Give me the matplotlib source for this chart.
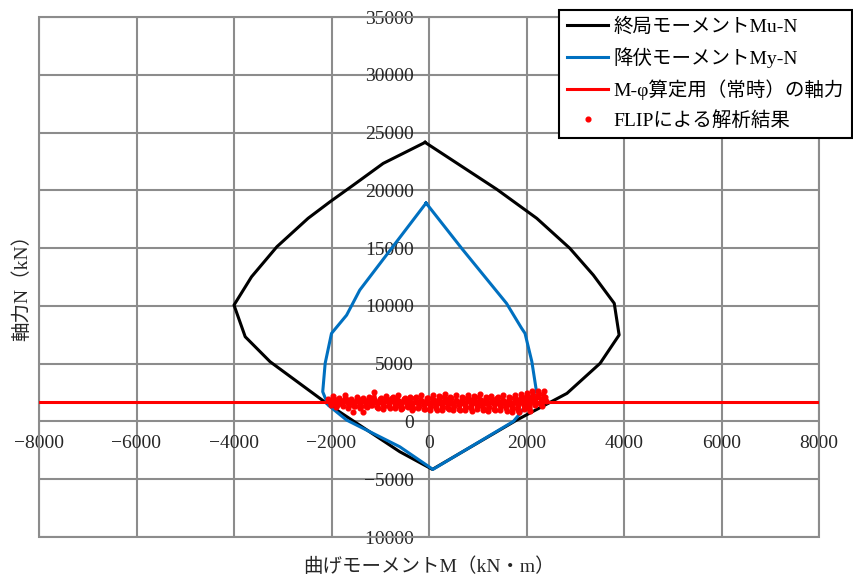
import matplotlib.pyplot as plt
from matplotlib.patches import Rectangle

plt.rcParams['font.family'] = ['Liberation Serif', 'Noto Sans CJK JP']
plt.rcParams['axes.unicode_minus'] = True

# 終局モーメント Mu-N
mu_m = [-80, -940, -1550, -2030, -2480, -3120, -3640, -4000, -3770, -3260,
        -2100, -600, 70, 1800, 2380, 2830, 3510, 3900, 3800, 3370, 2890,
        2210, 1390, -80]
mu_n = [24150, 22330, 20460, 19010, 17580, 15120, 12520, 10070, 7330, 5170,
        1570, -2620, -4150, 120, 1420, 2430, 5030, 7480, 10220, 12670, 14980,
        17580, 20090, 24150]

# 降伏モーメント My-N
my_m = [-60, -1420, -1690, -2000, -2130, -2180, -2070, -1690, -600, 80,
        1730, 1870, 2100, 2200, 2110, 1970, 1900, 1590, 670, -60]
my_n = [18900, 11370, 9200, 7620, 5030, 2570, 1420, 120, -2190, -4150,
        0, 700, 2150, 2720, 5170, 7620, 8060, 10220, 14980, 18900]

# M-φ算定用（常時）の軸力
axial_n = 1650

# FLIPによる解析結果 (M, N)
flip_m = [-2080, -2020, -1960, -1900, -1840, -1780, -1720, -1660, -1600, -1540,
          -1480, -1420, -1360, -1300, -1240, -1180, -1120, -1060, -1000, -940,
          -880, -820, -760, -700, -640, -580, -520, -460, -400, -340,
          -280, -220, -160, -100, -40, 20, 80, 140, 200, 260,
          320, 380, 440, 500, 560, 620, 680, 740, 800, 860,
          920, 980, 1040, 1100, 1160, 1220, 1280, 1340, 1400, 1460,
          1520, 1580, 1640, 1700, 1760, 1820, 1880, 1940, 2000, 2060,
          2120, 2180, 2240, 2300, 2360, 2400,
          2380, 2320, 2260, 2200, 2140, 2080, 2020, 1960, 1900, 1840,
          1780, 1720, 1660, 1600, 1540, 1480, 1420, 1360, 1300, 1240,
          1180, 1120, 1060, 1000, 940, 880, 820, 760, 700, 640,
          580, 520, 460, 400, 340, 280, 220, 160, 100, 40,
          -20, -80, -140, -200, -260, -320, -380, -440, -500, -560,
          -620, -680, -740, -800, -860, -920, -980, -1040, -1100, -1160,
          -1220, -1280, -1340, -1400, -1460, -1520, -1580, -1640, -1700, -1760,
          -1820, -1880, -1940, -2000, -2060]
flip_n = [1900, 1400, 2200, 1250, 2050, 1500, 2250, 1200, 1950, 1350,
          2150, 1150, 2000, 1300, 2100, 1400, 2550, 1250, 1900, 1100,
          2200, 1300, 2050, 1200, 2300, 1100, 1950, 1300, 2150, 1000,
          2000, 1200, 2250, 1100, 2050, 1000, 2300, 1150, 2200, 950,
          2350, 1200, 2100, 1000, 2250, 1100, 2150, 950, 2300, 1200,
          2200, 1050, 2400, 1000, 2150, 900, 2200, 1100, 2050, 950,
          2300, 1150, 2100, 850, 2250, 1000, 2350, 1100, 2500, 1200,
          2600, 1400, 2650, 1500, 2600, 1800,
          2100, 1300, 2400, 1600, 2300, 900, 2200, 1300, 2100, 800,
          1900, 1200, 2000, 900, 1800, 1300, 2100, 1000, 1900, 1250,
          2000, 1050, 1850, 1300, 2100, 900, 1950, 1250, 2050, 1000,
          1800, 1350, 2000, 1050, 1900, 1250, 2100, 1000, 1850, 1300,
          2000, 1050, 1800, 1350, 2100, 1150, 1850, 1250, 2000, 1150,
          1800, 1350, 2150, 1200, 1900, 1350, 2000, 1200, 1800, 1450,
          2050, 1250, 1850, 1350, 1950, 1300, 1800, 1400, 1950, 1350,
          1850, 1450, 1900, 1600, 1750]
flip_m_iso = [-1560, -1360]
flip_n_iso = [840, 840]

x_ticks = [-8000, -6000, -4000, -2000, 0, 2000, 4000, 6000, 8000]
y_ticks = [-10000, -5000, 0, 5000, 10000, 15000, 20000, 25000, 30000, 35000]

grid_color = '#8c8c8c'


def main():
    fig = plt.figure(figsize=(8.54, 5.81), dpi=100)
    ax = fig.add_axes([39 / 854, 1 - 537 / 581, 780 / 854, 520 / 581])

    ax.plot(mu_m, mu_n, color='black', lw=2.2, label='終局モーメントMu-N', zorder=3)
    ax.plot(my_m, my_n, color='#0070C0', lw=2.2, label='降伏モーメントMy-N', zorder=3)
    ax.axhline(axial_n, color='#FF0000', lw=2.2, label='M-φ算定用（常時）の軸力', zorder=3)
    ax.plot(flip_m, flip_n, color='#FF0000', lw=2.0, zorder=4)
    ax.plot(flip_m + flip_m_iso, flip_n + flip_n_iso, ls='none', marker='o', ms=3.4,
            color='#FF0000', label='FLIPによる解析結果', zorder=4)

    ax.set_xlim(-8000, 8000)
    ax.set_ylim(-10000, 35000)
    ax.set_xticks(x_ticks)
    ax.set_yticks(y_ticks)
    ax.grid(True, color=grid_color, lw=1.5)
    ax.set_axisbelow(True)

    for side in ['top', 'right']:
        ax.spines[side].set_visible(False)
    ax.spines['left'].set_position(('data', 0))
    ax.spines['bottom'].set_position(('data', 0))
    ax.spines['left'].set_color('none')
    ax.spines['bottom'].set_color('none')
    ax.tick_params(length=0, labelsize=14, colors='#262626')
    ax.tick_params(axis='y', pad=11)
    ax.tick_params(axis='x', pad=10)
    ax.add_patch(Rectangle((0, 0), 1, 1, transform=ax.transAxes, fill=False,
                           ec=grid_color, lw=1.5, clip_on=False, zorder=1))

    fig.text(429 / 854, 1 - 567 / 581, '曲げモーメントM（kN・m）', ha='center',
             va='center', fontsize=14, color='#262626')
    fig.text(22 / 854, 1 - 283 / 581, '軸力N（kN）', ha='center', va='center',
             rotation=90, fontsize=14, color='#262626')

    leg = ax.legend(loc='upper right', bbox_to_anchor=(852 / 854, 1 - 10 / 581),
                    bbox_transform=fig.transFigure, borderaxespad=0, fontsize=14,
                    fancybox=False, framealpha=1, edgecolor='black',
                    handlelength=2.1, handletextpad=0.3, labelspacing=0.58,
                    borderpad=0.4, numpoints=1)
    leg.get_frame().set_linewidth(1.5)
    leg.set_zorder(10)

    fig.savefig('out.png', dpi=100)


if __name__ == '__main__':
    main()
